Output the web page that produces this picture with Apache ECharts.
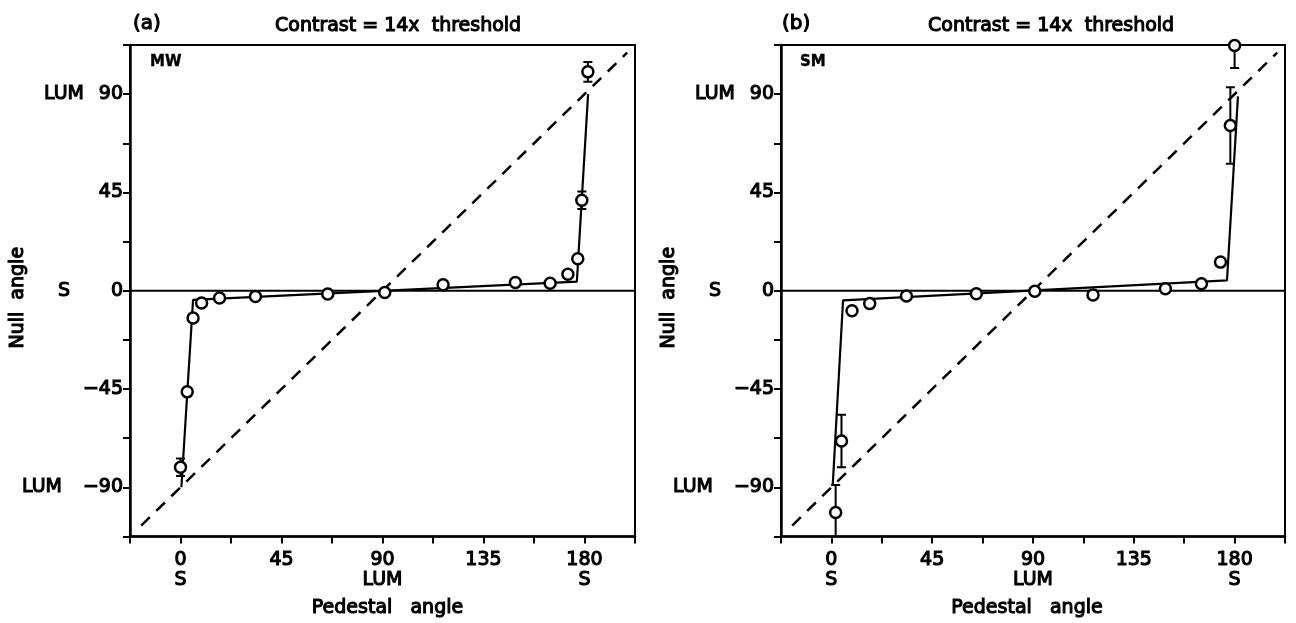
<!DOCTYPE html>
<html>
<head>
<meta charset="utf-8">
<script src="https://cdn.jsdelivr.net/npm/echarts@6/dist/echarts.min.js"></script>
<style>
html,body{margin:0;padding:0;background:#fff;}
#c{width:1296px;height:623px;}
</style>
</head>
<body>
<div id="c"></div>
<script>
// ---- data ----
// Panel (a), observer MW
const pedA  = [0, 3.0, 5.6, 9.4, 17.4, 33.4, 65.6, 91, 117, 149.2, 164.7, 172.6, 177, 178.8, 181.5];
const nullA = [-80.8, -46.3, -12.5, -5.6, -3.3, -2.6, -1.5, -0.8, 2.7, 3.8, 3.4, 7.5, 14.6, 41.4, 100.2];
const errA  = [4, 0, 0, 0, 0, 0, 0, 0, 0, 0, 0, 0, 0, 4, 4.5];
const fitAx = [0.4, 5.6, 176.6, 181.6];
const fitAy = [-90, -4.2, 4.2, 90];
// Panel (b), observer SM
const pedB  = [1.9, 4.5, 9.2, 17.1, 33.5, 64.7, 90.8, 116.8, 149.1, 165.2, 173.7, 178.1, 180];
const nullB = [-101.5, -68.8, -9.2, -5.9, -2.4, -1.4, -0.2, -1.9, 0.9, 3.2, 13.1, 75.6, 112.3];
const errB  = [12.6, 12, 0, 0, 0, 0, 0, 0, 0, 0, 0, 17.5, 10.3];
const fitBx = [0.6, 5.2, 176.6, 181.5];
const fitBy = [-89, -4.4, 4.7, 89];
// identity-minus-90 reference (dashed) and zero line
const diagX = [-17.5, 199];
const diagY = [-107.5, 109];
const zeroX = [-22.5, 202.5];
const zeroY = [0, 0];
// axes
const xMin = -22.5, xMax = 202.5, yMin = -112.5, yMax = 112.5, step = 22.5;
const xSub = {0: 'S', 90: 'LUM', 180: 'S'};
const ySub = {90: 'a', 0: 'c', '-90': 'b'};
const ySubText = {90: 'LUM', 0: 'S', '-90': 'LUM'};
const panelLetters = ['(a)', '(b)'];
const panelTitle = 'Contrast = 14x  threshold';
const observers = ['MW', 'SM'];
const xName = 'Pedestal   angle';
const yName = 'Null  angle';

const FONT = 'DejaVu Sans';
const BLK = '#000';
const txt = (size, extra) => Object.assign({fontFamily: FONT, fontSize: size, color: BLK, fontWeight: 'normal', textBorderColor: BLK, textBorderWidth: 1.1}, extra || {});

const zip = (a, b) => a.map((v, i) => [v, b[i]]);

const grids = [
  {left: 130, top: 45, width: 505, height: 497},
  {left: 781, top: 45, width: 504, height: 497}
];

const xAxes = [], yAxes = [], series = [];
const namePad = [[0, 0, 0, 10], [0, 12, 0, 0]];

grids.forEach((g, p) => {
  xAxes.push({
    type: 'value', gridIndex: p, min: xMin, max: xMax, interval: step,
    axisLine: {show: true, onZero: false, lineStyle: {color: BLK, width: 2.5}},
    axisTick: {show: true, inside: false, length: 7, lineStyle: {color: BLK, width: 2}},
    splitLine: {show: false},
    axisLabel: {
      margin: 14, lineHeight: 20, showMinLabel: true, showMaxLabel: true,
      ...txt(19),
      formatter: v => (Math.abs(v % 45) > 1e-9 ? '' : (String(v) + (xSub[v] ? '\n' + xSub[v] : '')))
    },
    name: xName, nameLocation: 'middle', nameGap: 62,
    nameTextStyle: txt(19, {padding: namePad[p]})
  });
  yAxes.push({
    type: 'value', gridIndex: p, min: yMin, max: yMax, interval: step, position: 'left',
    axisLine: {show: true, onZero: false, lineStyle: {color: BLK, width: 2.5}},
    axisTick: {show: true, inside: false, length: 7, lineStyle: {color: BLK, width: 2}},
    splitLine: {show: false},
    axisLabel: {
      margin: 7, ...txt(19),
      formatter: v => {
        if (Math.abs(v % 45) > 1e-9) return '';
        if (v < 0) return '\u2212' + Math.abs(v);
        return String(v);
      }
    },
    name: yName, nameLocation: 'middle', nameGap: 102,
    nameTextStyle: txt(19, {padding: [0, 14, 0, 0]})
  });
  yAxes.push({
    type: 'value', gridIndex: p, min: yMin, max: yMax, interval: step, position: 'left',
    axisLine: {show: false}, axisTick: {show: false}, splitLine: {show: false},
    axisLabel: {
      margin: 46, ...txt(19),
      formatter: v => (ySub[v] ? '{' + ySub[v] + '|' + ySubText[v] + '}' : ''),
      rich: {
        a: txt(19),
        b: txt(19, {padding: [0, 22, 0, 0]}),
        c: txt(19, {padding: [0, 14, 0, 0]})
      }
    }
  });

  const ped = p === 0 ? pedA : pedB;
  const nul = p === 0 ? nullA : nullB;
  const err = p === 0 ? errA : errB;
  const fx = p === 0 ? fitAx : fitBx;
  const fy = p === 0 ? fitAy : fitBy;
  const yi = p * 2;

  series.push({
    type: 'line', xAxisIndex: p, yAxisIndex: yi, data: zip(zeroX, zeroY),
    symbol: 'none', silent: true, lineStyle: {color: BLK, width: 2}, z: 2
  });
  series.push({
    type: 'line', xAxisIndex: p, yAxisIndex: yi, data: zip(diagX, diagY),
    symbol: 'none', silent: true, lineStyle: {color: BLK, width: 2.5, type: [12, 9]}, z: 2
  });
  series.push({
    type: 'line', xAxisIndex: p, yAxisIndex: yi, data: zip(fx, fy),
    symbol: 'none', silent: true, lineStyle: {color: BLK, width: 2.2}, z: 3
  });
  series.push({
    type: 'custom', xAxisIndex: p, yAxisIndex: yi, clip: true, z: 4,
    data: ped.map((x, i) => [x, nul[i], err[i]]).filter(d => d[2] > 0),
    renderItem: (params, api) => {
      const x = api.value(0), y = api.value(1), e = api.value(2);
      const t = api.coord([x, y + e]);
      const b = api.coord([x, y - e]);
      const hw = 4.5;
      const st = {stroke: BLK, lineWidth: 2};
      return {type: 'group', children: [
        {type: 'line', shape: {x1: t[0], y1: t[1], x2: b[0], y2: b[1]}, style: st},
        {type: 'line', shape: {x1: t[0] - hw, y1: t[1], x2: t[0] + hw, y2: t[1]}, style: st},
        {type: 'line', shape: {x1: b[0] - hw, y1: b[1], x2: b[0] + hw, y2: b[1]}, style: st}
      ]};
    }
  });
  series.push({
    type: 'scatter', xAxisIndex: p, yAxisIndex: yi, data: zip(ped, nul),
    symbol: 'circle', symbolSize: 11, z: 5,
    itemStyle: {color: '#fff', borderColor: BLK, borderWidth: 2.5, opacity: 1}
  });
});

const titles = [
  {text: panelLetters[0], left: 133, top: 14, padding: 0, textStyle: txt(20)},
  {text: panelTitle, left: 275, top: 17, padding: 0, textStyle: txt(19)},
  {text: observers[0], left: 150, top: 55, padding: 0, textStyle: txt(15, {fontWeight: 'bold', textBorderWidth: 0.4})},
  {text: panelLetters[1], left: 782, top: 14, padding: 0, textStyle: txt(20)},
  {text: panelTitle, left: 928, top: 17, padding: 0, textStyle: txt(19)},
  {text: observers[1], left: 800, top: 55, padding: 0, textStyle: txt(15, {fontWeight: 'bold', textBorderWidth: 0.4})}
];

const chart = echarts.init(document.getElementById('c'), null, {renderer: 'canvas'});
chart.setOption({
  animation: false,
  backgroundColor: '#fff',
  title: titles,
  grid: grids.map(g => Object.assign({show: true, borderColor: BLK, borderWidth: 2, backgroundColor: 'transparent', containLabel: false}, g)),
  xAxis: xAxes,
  yAxis: yAxes,
  series: series
});
</script>
</body>
</html>
